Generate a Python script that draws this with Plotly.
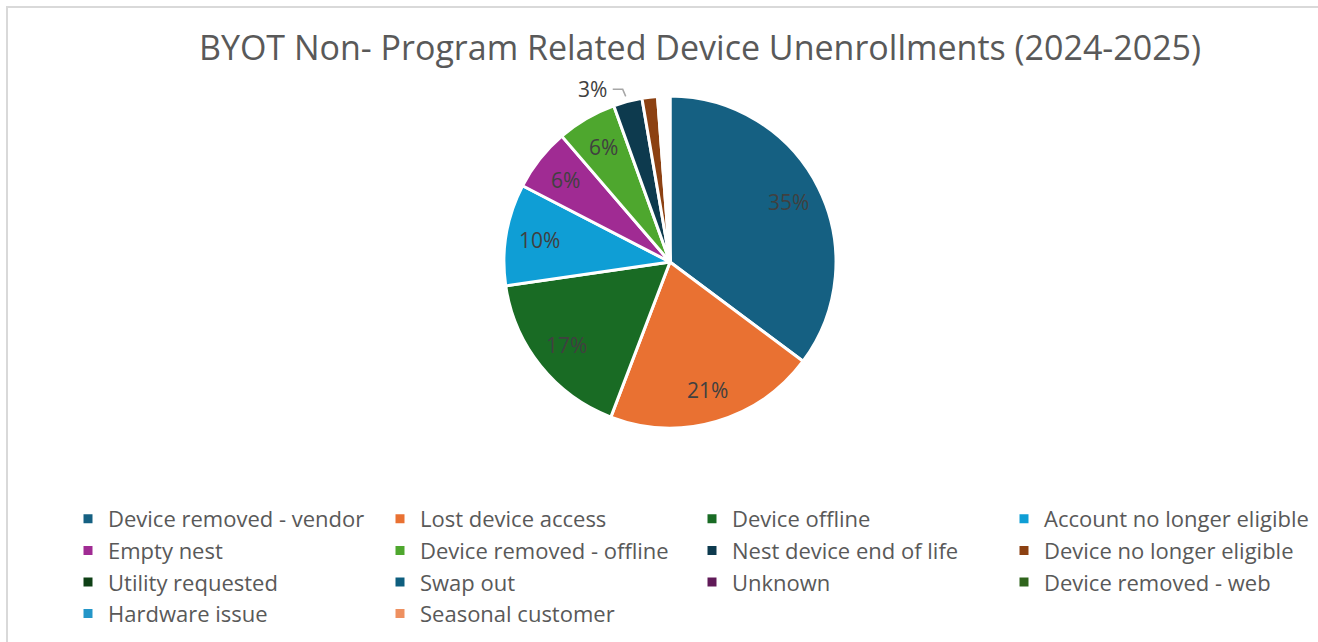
import math
import plotly.graph_objects as go

# Unenrollment reasons and their share of non-program-related unenrollments (%)
categories = [
    "Device removed - vendor",
    "Lost device access",
    "Device offline",
    "Account no longer eligible",
    "Empty nest",
    "Device removed - offline",
    "Nest device end of life",
    "Device no longer eligible",
    "Utility requested",
    "Swap out",
    "Unknown",
    "Device removed - web",
    "Hardware issue",
    "Seasonal customer",
]
shares = [35.2, 20.6, 16.9, 9.9, 6.1, 5.8, 2.8, 1.5, 0.2, 0.2, 0.2, 0.2, 0.2, 0.2]

colors = [
    "#156082", "#E97132", "#196B24", "#0F9ED5", "#A02B93", "#4EA72E",
    "#0D3A4E", "#8C4112", "#0E4016", "#0E5E7E", "#601A58", "#2F641C",
    "#2496C8", "#EE9060",
]

W, H = 1318, 642
cx, cy, r = 670, 262, 166
FONT = "Open Sans"
LABEL_COLOR = "#404040"

fig = go.Figure(
    go.Pie(
        labels=categories,
        values=shares,
        sort=False,
        direction="clockwise",
        rotation=0,
        marker=dict(colors=colors, line=dict(color="white", width=3)),
        textinfo="none",
        domain=dict(
            x=[(cx - r) / W, (cx + r) / W],
            y=[1 - (cy + r) / H, 1 - (cy - r) / H],
        ),
        hoverinfo="label+percent",
    )
)

# data labels: percent of total, placed along each slice's mid angle
total = sum(shares)
annotations = []
shapes = []
cum = 0.0
for name, v in zip(categories, shares):
    frac = v / total
    mid = (cum + frac / 2) * 2 * math.pi  # clockwise from 12 o'clock
    cum += frac
    pct = f"{round(frac * 100):.0f}%"
    if v >= 5:
        px = cx + 0.8 * r * math.sin(mid)
        py = cy - 0.8 * r * math.cos(mid)
        annotations.append(dict(
            x=px / W, y=1 - py / H, xref="paper", yref="paper",
            text=pct, showarrow=False, xanchor="center", yanchor="middle",
            font=dict(family=FONT, size=21, color=LABEL_COLOR),
        ))
    elif v >= 2.5:
        # small slice: label outside with an elbow leader line
        ex = cx + (r - 4) * math.sin(mid)
        ey = cy - (r - 4) * math.cos(mid)
        lx, ly = ex - 20, ey - 16
        annotations.append(dict(
            x=lx / W, y=1 - ly / H, xref="paper", yref="paper",
            text=pct, showarrow=False, xanchor="right", yanchor="middle",
            font=dict(family=FONT, size=21, color=LABEL_COLOR),
        ))
        path = (f"M {(lx + 4) / W},{1 - ly / H} L {(ex - 6) / W},{1 - ly / H} "
                f"L {(ex - 3) / W},{1 - (ly + 7) / H}")
        shapes.append(dict(
            type="path", xref="paper", yref="paper", path=path,
            line=dict(color="#A6A6A6", width=1.5),
        ))

# chart-area frame
shapes.append(dict(
    type="rect", xref="paper", yref="paper",
    x0=7 / W, x1=1.02, y0=-0.02, y1=1 - 7 / H,
    line=dict(color="#D9D9D9", width=2), layer="below",
))

fig.update_layout(
    width=W,
    height=H,
    margin=dict(l=0, r=0, t=0, b=0, autoexpand=False),
    paper_bgcolor="white",
    font=dict(family=FONT, color="#595959"),
    title=dict(
        text="BYOT Non- Program Related Device Unenrollments (2024-2025)",
        x=700 / W,
        xanchor="center",
        y=1 - 48 / H,
        yanchor="middle",
        font=dict(family=FONT, size=34, color="#595959"),
    ),
    legend=dict(
        orientation="h",
        x=68 / W,
        xanchor="left",
        y=1 - 498 / H,
        yanchor="top",
        entrywidth=267,
        entrywidthmode="pixels",
        font=dict(family=FONT, size=22, color="#595959"),
        itemwidth=30,
        traceorder="normal",
        bgcolor="rgba(0,0,0,0)",
    ),
    annotations=annotations,
    shapes=shapes,
)

fig.write_html("out.html")
